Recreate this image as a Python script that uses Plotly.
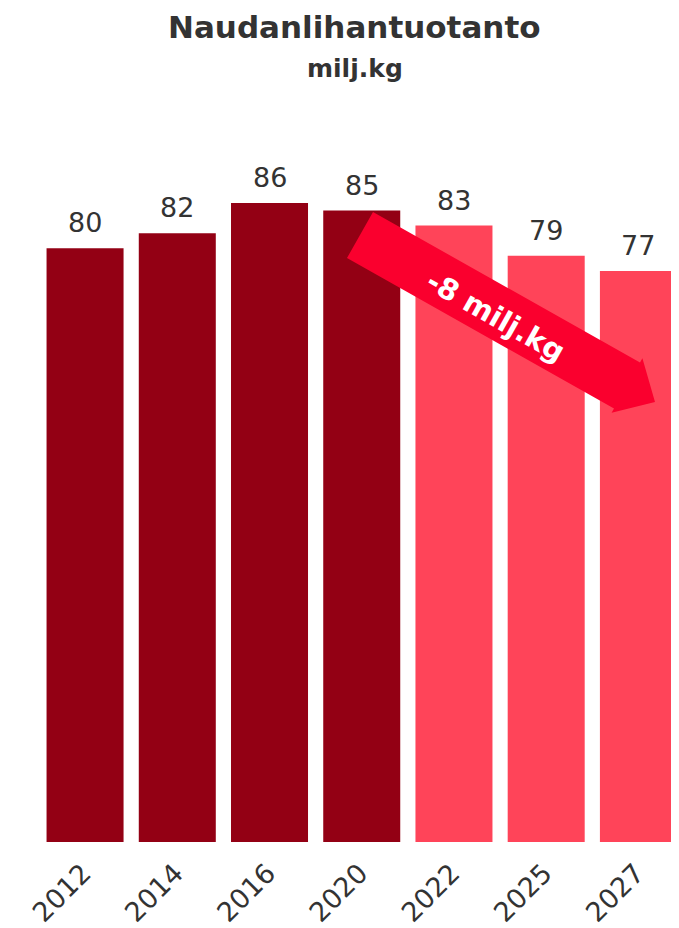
import plotly.graph_objects as go

years = ["2012", "2014", "2016", "2020", "2022", "2025", "2027"]
values = [80, 82, 86, 85, 83, 79, 77]
is_forecast = [False, False, False, False, True, True, True]
title_text = "Naudanlihantuotanto"
subtitle_text = "milj.kg"
arrow_text = "-8 milj.kg"

DARK = "#930014"
LIGHT = "#FF4459"
ARROW = "#FA002E"
TXT = "#333333"
FONT = "DejaVu Sans"

W, H = 679, 928
OFF = 8  # page body margin
# plot area in screen pixels
SL, SR, ST, SB = 30, 679, 110, 842
ML, MT = SL - OFF, ST - OFF
MR = W - (SR - OFF)
MB = H - (SB - OFF)
PW, PH = SR - SL, SB - ST

def px(x):
    return (x - SL) / PW

def py(y):
    return (SB - y) / PH

xs = list(range(len(years)))
colors = [LIGHT if f else DARK for f in is_forecast]

fig = go.Figure()
fig.add_trace(go.Bar(
    x=xs, y=values, marker=dict(color=colors, line=dict(width=0)),
    width=0.835, hoverinfo="skip",
))

for x, v in zip(xs, values):
    fig.add_annotation(x=x, y=v, xref="x", yref="y", text=str(v),
                       showarrow=False, yanchor="bottom", xanchor="center", yshift=8,
                       font=dict(family=FONT, size=27, color=TXT))

# decorative trend arrow (pixel geometry converted to paper coords)
pts = [(373, 212), (640, 362.5), (642.4, 358.3), (655, 402),
       (611.6, 412.7), (614, 408.5), (347, 258)]
path = "M " + " L ".join(f"{px(a):.5f},{py(b):.5f}" for a, b in pts) + " Z"
fig.add_shape(type="path", path=path, xref="paper", yref="paper",
              fillcolor=ARROW, line=dict(width=0), layer="above")
fig.add_annotation(x=px(495), y=py(316), xref="paper", yref="paper",
                   xanchor="center", yanchor="middle",
                   text=f"<b>{arrow_text}</b>", showarrow=False,
                   textangle=29.5, font=dict(family=FONT, size=29, color="white"))

fig.add_annotation(x=0.5, y=py(OFF), xref="paper", yref="paper",
                   text=f"<b>{title_text}</b>", showarrow=False,
                   xanchor="center", yanchor="top", borderpad=0,
                   font=dict(family=FONT, size=31, color=TXT))
fig.add_annotation(x=0.5, y=py(68), xref="paper", yref="paper",
                   text=f"<b>{subtitle_text}</b>", showarrow=False,
                   xanchor="center", yanchor="middle",
                   font=dict(family=FONT, size=25, color=TXT))

fig.update_layout(
    width=W, height=H,
    margin=dict(l=ML, r=MR, t=MT, b=MB, autoexpand=False),
    paper_bgcolor="white", plot_bgcolor="white",
    showlegend=False,
    xaxis=dict(tickmode="array", tickvals=xs, ticktext=years, range=[-0.597, 6.44],
               tickangle=-45, showgrid=False, zeroline=False, showline=False, ticks="",
               ticklabelstandoff=9, ticklabelshift=-2,
               tickfont=dict(family=FONT, size=27, color=TXT), fixedrange=True),
    yaxis=dict(range=[1.43, 98.3], visible=False, showgrid=False, zeroline=False,
               fixedrange=True),
)

fig.write_html("out.html")
